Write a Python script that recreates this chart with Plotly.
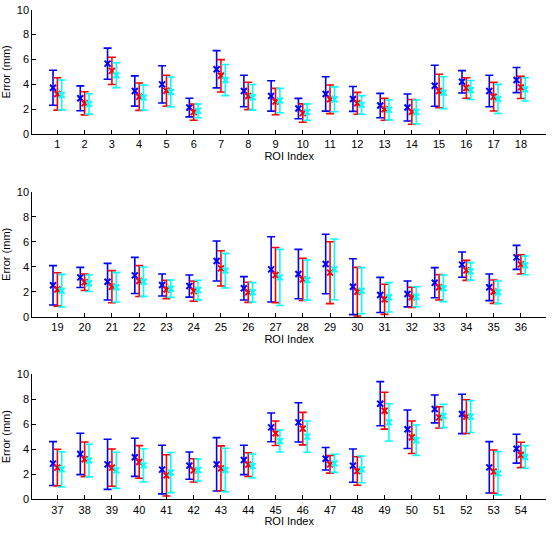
import plotly.graph_objects as go

roi = list(range(1, 55))

blue_mean = [3.72,2.87,5.66,3.46,3.99,2.13,5.21,3.46,3.06,2.05,3.22,2.82,2.29,2.13,3.88,4.20,3.46,4.34,
             2.53,3.16,2.82,3.32,2.55,2.47,4.47,2.29,3.80,3.43,4.23,2.42,1.76,1.84,2.74,4.18,2.37,4.76,
             2.85,3.62,2.79,3.35,2.37,2.69,2.79,3.14,5.74,6.14,3.24,2.69,7.63,5.59,7.21,6.81,2.55,4.04]
blue_err = [1.41,1.00,1.25,1.22,1.50,0.75,1.50,1.27,1.22,0.82,1.38,1.00,0.98,1.09,1.65,0.90,1.27,1.01,
            1.57,0.80,1.46,1.44,0.88,0.88,1.60,0.93,2.60,1.97,2.37,2.23,1.40,1.03,1.20,1.01,1.06,0.96,
            1.75,1.65,2.00,1.52,1.94,1.09,2.13,1.17,1.15,1.57,0.90,1.33,1.76,1.54,1.11,1.57,2.05,1.15]
red_mean = [3.22,2.47,5.08,3.00,3.48,1.76,4.68,3.06,2.61,1.68,2.79,2.47,1.99,1.78,3.46,3.70,3.00,3.75,
            2.20,2.77,2.42,2.87,2.20,2.07,3.88,1.97,3.35,3.00,3.54,2.02,1.41,1.57,2.37,3.72,2.02,4.20,
            2.53,3.19,2.53,2.98,1.91,2.31,2.47,2.77,5.27,5.64,2.79,2.26,7.07,4.95,6.54,6.60,2.21,3.54]
red_err = [1.30,0.93,1.10,1.10,1.25,0.65,1.30,1.10,1.06,0.74,1.15,0.88,0.88,1.00,1.35,0.82,1.15,0.90,
           1.33,0.66,1.28,1.23,0.73,0.80,1.41,0.80,2.20,1.68,2.47,1.94,1.20,0.80,1.01,0.80,0.93,0.77,
           1.46,1.38,1.49,1.30,1.65,0.93,1.79,0.95,0.98,1.30,0.70,1.14,1.47,1.30,0.85,1.35,1.73,1.01]
cyan_mean = [3.14,2.42,4.73,2.93,3.38,1.86,4.34,2.95,2.69,1.76,2.79,2.34,1.94,1.78,3.32,3.54,2.82,3.59,
             2.10,2.69,2.37,2.82,2.26,2.15,3.70,1.97,3.16,2.95,3.80,2.10,1.57,1.62,2.29,3.64,1.97,4.12,
             2.39,3.09,2.31,2.71,2.13,2.34,2.34,2.66,4.65,5.00,2.87,2.39,6.14,4.71,6.65,6.60,2.07,3.38]
cyan_err = [1.20,0.82,1.00,1.00,1.20,0.55,1.25,1.03,0.98,0.66,1.00,0.75,0.80,0.96,1.28,0.77,1.17,0.93,
            1.30,0.66,1.17,1.17,0.69,0.78,1.38,0.77,2.24,1.60,2.42,1.84,1.17,0.80,1.06,0.70,0.90,0.75,
            1.41,1.30,1.44,1.33,1.60,0.88,1.73,0.96,0.88,1.25,0.72,1.07,1.49,1.22,0.93,1.27,1.73,0.90]

y_ticks = [0, 2, 4, 6, 8, 10]

series = [
    ("blue", blue_mean, blue_err, "#0000ff", -0.16),
    ("red", red_mean, red_err, "#ff0000", 0.0),
    ("cyan", cyan_mean, cyan_err, "#00ffff", 0.16),
]

W, H = 552, 536
x_dom = [32.3 / W, 546 / W]
panels_px = [(9.7, 134.0), (191.7, 317.0), (374.0, 499.3)]
FONT = "Liberation Sans, Arial, sans-serif"
PER = 18

fig = go.Figure()
for p in range(3):
    lo, hi = p * PER, (p + 1) * PER
    xs = roi[lo:hi]
    xa = "x" if p == 0 else f"x{p+1}"
    ya = "y" if p == 0 else f"y{p+1}"
    for name, mean, err, col, off in series:
        fig.add_trace(go.Scatter(
            x=[v + off for v in xs], y=mean[lo:hi], mode="markers",
            xaxis=xa, yaxis=ya, showlegend=False, name=name,
            marker=dict(symbol="x-thin", size=6, color=col, line=dict(color=col, width=2)),
            error_y=dict(type="data", array=err[lo:hi], visible=True, color=col,
                         thickness=1.6, width=4),
        ))

layout = dict(
    width=W, height=H, margin=dict(l=0, r=0, t=0, b=0),
    paper_bgcolor="white", plot_bgcolor="white",
    font=dict(family=FONT, size=11, color="black"),
)
for p in range(3):
    top_px, bot_px = panels_px[p]
    lo, hi = p * PER, (p + 1) * PER
    sfx = "" if p == 0 else str(p + 1)
    layout["xaxis" + sfx] = dict(
        domain=x_dom, anchor="y" + sfx, range=[roi[lo] - 0.92, roi[hi - 1] + 0.92],
        tickvals=roi[lo:hi], ticks="inside", ticklen=4, tickcolor="black",
        showline=True, linecolor="black", linewidth=1, showgrid=False, zeroline=False,
        automargin=False, tickfont=dict(size=11),
        title=dict(text="ROI Index", font=dict(size=11), standoff=2),
    )
    layout["yaxis" + sfx] = dict(
        domain=[1 - bot_px / H, 1 - top_px / H], anchor="x" + sfx, range=[0, 10],
        tickvals=y_ticks, ticks="inside", ticklen=4, tickcolor="black",
        showline=True, linecolor="black", linewidth=1, showgrid=False, zeroline=False,
        automargin=False, tickfont=dict(size=11),
        title=dict(text="Error (mm)", font=dict(size=11), standoff=4),
    )
fig.update_layout(**layout)
fig.write_html("out.html")
